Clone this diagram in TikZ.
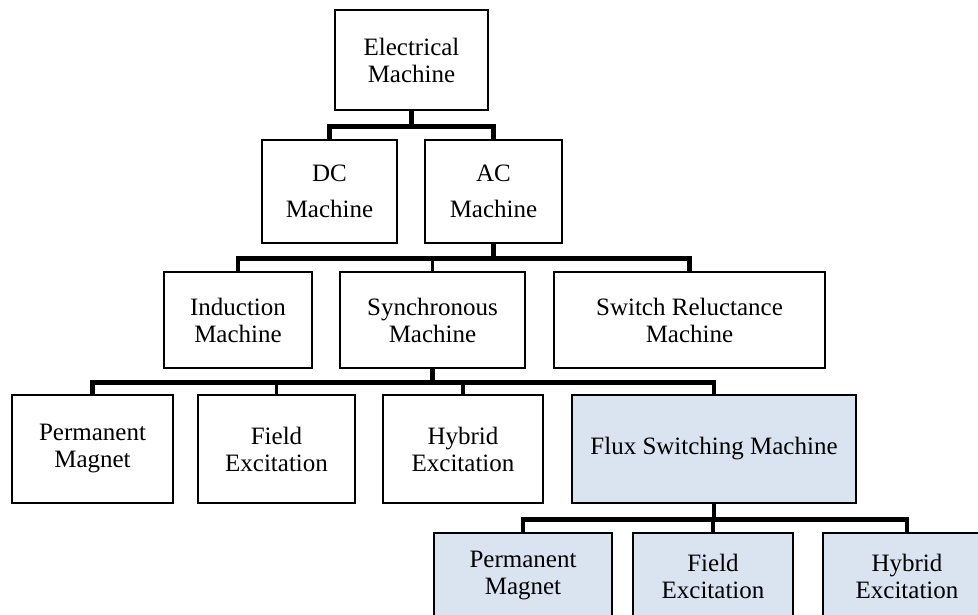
\documentclass[tikz,border=0pt]{standalone}
\usepackage{fontspec}
\setmainfont{Liberation Serif}
\definecolor{fluxblue}{HTML}{DAE3F0}
\tikzset{
  box/.style={draw, line width=2.6pt, inner sep=0pt, align=center, font=\fontsize{25}{27}\selectfont},
  widebox/.style={box, font=\fontsize{25}{36}\selectfont},
  fluxbox/.style={box, fill=fluxblue},
  link/.style={line width=4.5pt},
  thinlink/.style={line width=2.4pt},
}
\begin{document}
\begin{tikzpicture}[x=1pt, y=-1pt]
        \useasboundingbox (0,0) rectangle (978,615);
        \clip (0,0) rectangle (978,615);

        % Nivel 0
        \node[box, minimum width=153, minimum height=100] (elec) at (411.5,60) {Electrical\\Machine};

        % Nivel 1
        \node[widebox, minimum width=135, minimum height=103] (dc) at (329.5,191.5) {DC\\Machine};
        \node[widebox, minimum width=137, minimum height=103] (ac) at (493.5,191.5) {AC\\Machine};

        % Nivel 2
        \node[box, minimum width=148, minimum height=96] (ind) at (238,320) {Induction\\Machine};
        \node[box, minimum width=185, minimum height=96] (sync) at (432.5,320) {Synchronous\\Machine};
        \node[box, minimum width=271, minimum height=96] (srm) at (689.5,320) {Switch Reluctance\\Machine};

        % Nivel 3
        \node[box, minimum width=161, minimum height=108] (pm) at (92.5,449) {Permanent\\Magnet};
        \node[box, minimum width=157, minimum height=108] (fe) at (276.5,449) {Field\\Excitation};
        \node[box, minimum width=160, minimum height=108] (he) at (463,449) {Hybrid\\Excitation};
        \node[fluxbox, minimum width=284, minimum height=108] (fsm) at (714,449) {Flux Switching Machine};

        % Nivel 4
        \node[fluxbox, minimum width=178, minimum height=86] (fpm) at (523,576) {Permanent\\Magnet};
        \node[fluxbox, minimum width=160, minimum height=86] (ffe) at (713,576) {Field\\Excitation};
        \node[fluxbox, minimum width=168, minimum height=86] (fhe) at (907,576) {Hybrid\\Excitation};

        % Conectores
        \draw[link] (elec.south) -- ++(0,15) coordinate (b1);
        \draw[link] (b1) -| (dc.north);
        \draw[link] (b1) -| (ac.north);

        \draw[link] (ac.south) -- ++(0,14) coordinate (b2);
        \draw[link] (b2) -| (ind.north);
        \draw[thinlink] (b2) -| (sync.north);
        \draw[link] (b2) -| (srm.north);

        \draw[link] (sync.south) -- ++(0,13) coordinate (b3);
        \draw[link] (b3) -| (pm.north);
        \draw[thinlink] (b3) -| (fe.north);
        \draw[link] (b3) -| (he.north);
        \draw[link] (b3) -| (fsm.north);

        \draw[link] (fsm.south) -- ++(0,15) coordinate (b4);
        \draw[link] (b4) -| (fpm.north);
        \draw[link] (b4) -| (ffe.north);
        \draw[link] (b4) -| (fhe.north);
\end{tikzpicture}
\end{document}
